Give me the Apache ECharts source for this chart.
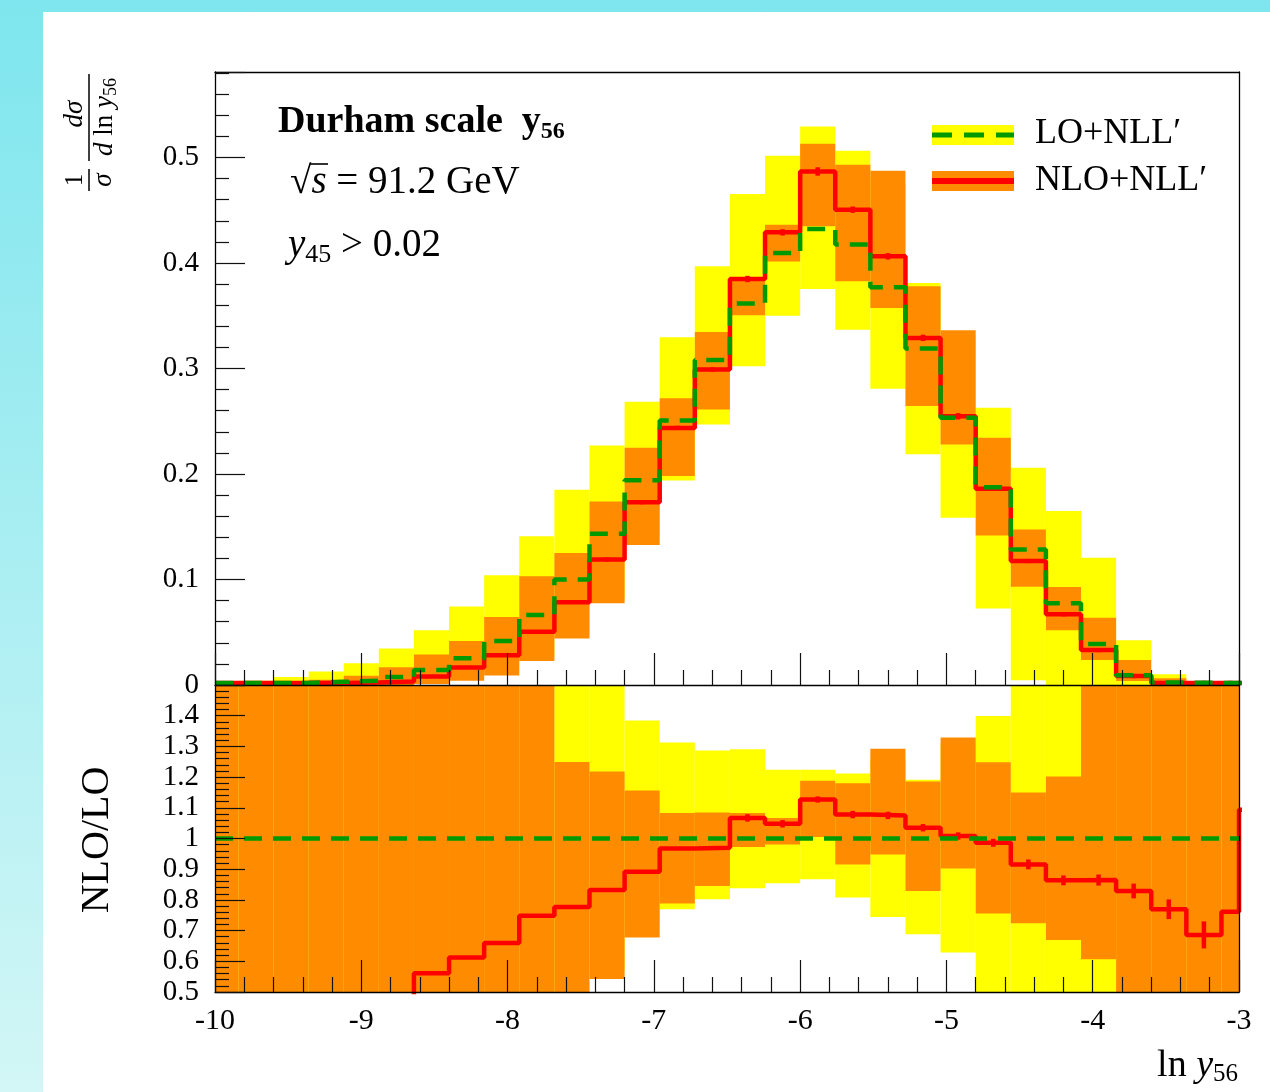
<!DOCTYPE html>
<html>
<head>
<meta charset="utf-8">
<script src="https://cdn.jsdelivr.net/npm/echarts@6/dist/echarts.min.js"></script>
<style>
html,body{margin:0;padding:0;width:1270px;height:1092px;overflow:hidden;background:linear-gradient(to bottom,#7ee6ee,#d3f6f6);}
#bg{position:absolute;left:43px;top:12px;width:1227px;height:1080px;background:#fff;}
#chart{position:absolute;left:0;top:0;width:1270px;height:1092px;}
</style>
</head>
<body>
<div id="bg"></div>
<div id="chart"></div>
<script>
// ---- data (bin edges in ln y56) ----
const edges = [-10, -9.84, -9.6, -9.36, -9.12, -8.88, -8.64, -8.4, -8.16, -7.92, -7.68, -7.44, -7.2, -6.96, -6.72, -6.48, -6.24, -6, -5.76, -5.52, -5.28, -5.04, -4.8, -4.56, -4.32, -4.08, -3.84, -3.6, -3.36, -3.12, -3, -2.88];

// main panel: 1/sigma dsigma/dln y56
const loCentral  = [0.002,0.002,0.002,0.003,0.004,0.0076,0.0142,0.0253,0.0417,0.0663,0.100,0.1434,0.1941,0.2507,0.308,0.3615,0.4095,0.4322,0.4176,0.3769,0.319,0.2532,0.1875,0.1285,0.0774,0.0388,0.0092,0.0023,0.002,0.002,0.002];
const loBandHi   = [0.003,0.004,0.0076,0.0127,0.0205,0.0345,0.052,0.0745,0.104,0.141,0.185,0.227,0.2685,0.3296,0.397,0.4653,0.5016,0.5294,0.5063,0.475,0.381,0.33,0.2627,0.2059,0.1648,0.1206,0.0423,0.0101,0.003,0.002,0.002];
const loBandLo   = [0,0,0,0,0.001,0.002,0.004,0.008,0.014,0.026,0.048,0.082,0.14,0.1938,0.2469,0.302,0.350,0.3754,0.3368,0.2807,0.2187,0.1585,0.0726,0.0045,0,0,0,0,0,0,0];
const nloCentral = [0.002,0.002,0.002,0.002,0.0023,0.0032,0.008,0.0165,0.0281,0.0505,0.0785,0.119,0.1733,0.2437,0.299,0.3848,0.429,0.4867,0.4505,0.4063,0.329,0.2547,0.186,0.1175,0.067,0.0331,0.0085,0.002,0.002,0.002,0.002];
const nloErr     = [0.001,0.001,0.001,0.001,0.001,0.001,0.001,0.001,0.001,0.001,0.001,0.002,0.002,0.002,0.002,0.003,0.003,0.004,0.003,0.003,0.003,0.003,0.002,0.002,0.002,0.002,0.002,0.002,0.002,0.002,0.002];
const nloBandHi  = [0.002,0.002,0.003,0.005,0.0088,0.0168,0.029,0.0418,0.0644,0.103,0.125,0.174,0.2248,0.2718,0.3346,0.3858,0.4363,0.513,0.493,0.4874,0.378,0.3362,0.2343,0.1474,0.0928,0.0638,0.0237,0.0065,0.003,0.002,0.002];
const nloBandLo  = [0,0,0,0,0,0,0.001,0.004,0.009,0.0227,0.044,0.0774,0.1326,0.198,0.261,0.3504,0.4015,0.4347,0.3826,0.3574,0.2645,0.228,0.1418,0.0932,0.052,0.0236,0.0038,0.001,0,0,0];

// ratio panel: NLO/LO
const ratioLoLine = [1, 1];
const ratioLoLineX = [-10, -3];
const ratioNlo   = [0.3,0.32,0.35,0.38,0.42,0.44,0.561,0.6127,0.66,0.748,0.777,0.832,0.892,0.9675,0.97,1.067,1.048,1.127,1.078,1.075,1.035,1.008,0.986,0.9156,0.8636,0.8646,0.829,0.7695,0.686,0.761,1.094];
const ratioErr   = [0,0,0,0,0,0,0,0,0,0,0,0,0,0,0,0.012,0.012,0.01,0.012,0.012,0.012,0.012,0.013,0.016,0.016,0.018,0.024,0.032,0.044,0,0];
const ratioLoHi  = [1.5,2.0,3.8,4.2,5.1,4.5,3.7,2.9,2.5,2.1,1.85,1.58,1.384,1.313,1.287,1.291,1.224,1.224,1.212,1.26,1.1916,1.31,1.399,1.6,2.1,3.1,4.6,4.4,1.5,1.5,1.5];
const ratioLoLo  = [0.2,0.2,0.2,0.2,0.25,0.26,0.28,0.32,0.34,0.39,0.48,0.57,0.72,0.7695,0.802,0.838,0.854,0.867,0.8075,0.7446,0.688,0.629,0.387,0.035,0,0,0,0,0,0,0];
const ratioNloHi = [1.6,1.6,1.6,1.7,2.2,2.2,2.04,1.65,1.54,1.55,1.249,1.2185,1.156,1.083,1.085,1.083,1.067,1.188,1.18,1.292,1.186,1.329,1.248,1.15,1.202,1.64,2.6,2.8,1.6,1.6,1.6];
const ratioNloLo = [0,0,0,0,0,0,0.07,0.16,0.22,0.34,0.44,0.542,0.6776,0.788,0.845,0.972,0.9805,1.005,0.9156,0.948,0.829,0.9026,0.7555,0.724,0.669,0.607,0.41,0.43,0,0,0];

const xTicks = [-10,-9,-8,-7,-6,-5,-4,-3];

// ---- helpers ----
const F = 'Liberation Serif';
const XMIN = -10, XMAX = -3;
const MAIN = [0, 0.581], RAT = [0.5, 1.5];

function bandRows(lo, hi) {
  return lo.map((v, i) => [edges[i], edges[i + 1], v, hi[i]]);
}
function stepPts(vals) {
  const p = vals.map((v, i) => [edges[i], v]);
  p.push([edges[vals.length], vals[vals.length - 1]]);
  return p;
}
function errRows(vals, errs) {
  return vals.map((v, i) => [(edges[i] + edges[i + 1]) / 2, v, errs[i]]);
}
function bandRender(color, yr) {
  return function (params, api) {
    let x0 = Math.max(XMIN, api.value(0)), x1 = Math.min(XMAX, api.value(1));
    if (x1 <= x0) return null;
    let lo = Math.max(yr[0], api.value(2)), hi = Math.min(yr[1], api.value(3));
    if (hi <= lo) return null;
    const p0 = api.coord([x0, hi]), p1 = api.coord([x1, lo]);
    return { type: 'rect', shape: { x: p0[0], y: p0[1], width: p1[0] - p0[0], height: p1[1] - p0[1] },
             style: { fill: color } };
  };
}
function errRender(color, yr) {
  return function (params, api) {
    const xc = api.value(0), v = api.value(1), e = api.value(2);
    if (!e || xc > XMAX) return null;
    const a = api.coord([xc, Math.max(yr[0], v - e)]), b = api.coord([xc, Math.min(yr[1], v + e)]);
    return { type: 'line', shape: { x1: a[0], y1: a[1], x2: b[0], y2: b[1] }, style: { stroke: color, lineWidth: 4.5 } };
  };
}

const tickStyle = { color: '#111', width: 1.2 };
function xAxisCfg(grid, labels) {
  return {
    type: 'value', gridIndex: grid, min: XMIN, max: XMAX, interval: 1, position: 'bottom', z: 10,
    axisLine: { show: true, onZero: false, lineStyle: { color: '#000', width: 1.3 } },
    axisTick: { show: true, inside: true, length: 32, lineStyle: tickStyle },
    minorTick: { show: true, splitNumber: 5, length: 15, lineStyle: tickStyle },
    splitLine: { show: false },
    axisLabel: { show: labels, margin: 14, fontFamily: F, fontSize: 30, color: '#000',
                 formatter: v => String(Math.round(v)) }
  };
}
function yAxisCfg(grid, r, fmt) {
  return {
    type: 'value', gridIndex: grid, min: r[0], max: r[1], interval: 0.1, position: 'left', z: 10,
    axisLine: { show: true, onZero: false, lineStyle: { color: '#000', width: 1.3 } },
    axisTick: { show: true, inside: true, length: 30, lineStyle: tickStyle },
    minorTick: { show: true, splitNumber: 5, length: 14, lineStyle: tickStyle },
    splitLine: { show: false },
    axisLabel: { show: true, margin: 16, fontFamily: F, fontSize: 29, color: '#000',
                 showMaxLabel: false, formatter: fmt }
  };
}
function frameAxis(grid, pos, r) {
  return { type: 'value', gridIndex: grid, min: r[0], max: r[1], position: pos, z: 10,
    axisLine: { show: true, onZero: false, lineStyle: { color: '#000', width: 1.3 } },
    axisTick: { show: false }, axisLabel: { show: false }, splitLine: { show: false } };
}

const chart = echarts.init(document.getElementById('chart'), null, { renderer: 'canvas' });

const rs = (extra) => Object.assign({ fontFamily: F, fill: '#000', color: '#000' }, extra);

const option = {
  animation: false,
  backgroundColor: 'transparent',
  grid: [
    { left: 215, top: 72, width: 1024, height: 613 },
    { left: 215, top: 685, width: 1024, height: 307 }
  ],
  xAxis: [
    xAxisCfg(0, false),
    xAxisCfg(1, true),
    frameAxis(0, 'top', [XMIN, XMAX])
  ],
  yAxis: [
    yAxisCfg(0, MAIN, v => (Math.abs(v) < 1e-9 ? '0' : v.toFixed(1))),
    yAxisCfg(1, RAT, v => (Math.abs(v - 1) < 1e-9 ? '1' : v.toFixed(1))),
    frameAxis(0, 'right', MAIN),
    frameAxis(1, 'right', RAT)
  ],
  series: [
    // main panel
    { type: 'custom', name: 'LO band', xAxisIndex: 0, yAxisIndex: 0, z: 1, silent: true, clip: true,
      renderItem: bandRender('#ffff00', MAIN), encode: { x: [0, 1], y: [2, 3] }, data: bandRows(loBandLo, loBandHi) },
    { type: 'custom', name: 'NLO band', xAxisIndex: 0, yAxisIndex: 0, z: 2, silent: true, clip: true,
      renderItem: bandRender('#ff8c00', MAIN), encode: { x: [0, 1], y: [2, 3] }, data: bandRows(nloBandLo, nloBandHi) },
    { type: 'line', name: 'NLO+NLL', xAxisIndex: 0, yAxisIndex: 0, z: 3, step: 'end', symbol: 'none', clip: true,
      lineStyle: { color: '#ff0000', width: 4.5 }, data: stepPts(nloCentral) },
    { type: 'custom', name: 'NLO err', xAxisIndex: 0, yAxisIndex: 0, z: 3, silent: true, clip: true,
      renderItem: errRender('#ff0000', MAIN), encode: { x: 0, y: 1 }, data: errRows(nloCentral, nloErr) },
    { type: 'line', name: 'LO+NLL', xAxisIndex: 0, yAxisIndex: 0, z: 4, step: 'end', symbol: 'none', clip: true,
      lineStyle: { color: '#009a00', width: 4.5, type: [18, 11] }, data: stepPts(loCentral) },
    // ratio panel
    { type: 'custom', name: 'LO band r', xAxisIndex: 1, yAxisIndex: 1, z: 1, silent: true, clip: true,
      renderItem: bandRender('#ffff00', RAT), encode: { x: [0, 1], y: [2, 3] }, data: bandRows(ratioLoLo, ratioLoHi) },
    { type: 'custom', name: 'NLO band r', xAxisIndex: 1, yAxisIndex: 1, z: 2, silent: true, clip: true,
      renderItem: bandRender('#ff8c00', RAT), encode: { x: [0, 1], y: [2, 3] }, data: bandRows(ratioNloLo, ratioNloHi) },
    { type: 'line', name: 'NLO/LO', xAxisIndex: 1, yAxisIndex: 1, z: 3, step: 'end', symbol: 'none', clip: true,
      lineStyle: { color: '#ff0000', width: 4.5 }, data: stepPts(ratioNlo) },
    { type: 'custom', name: 'NLO/LO err', xAxisIndex: 1, yAxisIndex: 1, z: 3, silent: true, clip: true,
      renderItem: errRender('#ff0000', RAT), encode: { x: 0, y: 1 }, data: errRows(ratioNlo, ratioErr) },
    { type: 'line', name: 'LO/LO', xAxisIndex: 1, yAxisIndex: 1, z: 4, symbol: 'none', clip: true,
      lineStyle: { color: '#009a00', width: 4.5, type: [18, 11] },
      data: ratioLoLineX.map((x, i) => [x, ratioLoLine[i]]) }
  ],
  graphic: [
    // annotations
    { type: 'text', x: 278, y: 122, z: 20, style: {
        text: '{b|Durham scale  }{b|y}{bs|56}', align: 'left', verticalAlign: 'middle',
        rich: { b: rs({ fontSize: 38, fontWeight: 'bold', lineHeight: 44 }),
                bs: rs({ fontSize: 24, fontWeight: 'bold', lineHeight: 22, verticalAlign: 'bottom' }) } } },
    { type: 'text', x: 290, y: 183, z: 20, style: {
        text: '{r|√}{i|s}{r| = 91.2 GeV}', align: 'left', verticalAlign: 'middle',
        rich: { r: rs({ fontSize: 39, lineHeight: 44 }), i: rs({ fontSize: 39, fontStyle: 'italic', lineHeight: 44 }) } } },
    { type: 'line', z: 20, shape: { x1: 310, y1: 164, x2: 328, y2: 164 }, style: { stroke: '#000', lineWidth: 1.6 } },
    { type: 'text', x: 288, y: 246, z: 20, style: {
        text: '{i|y}{s|45}{r| > 0.02}', align: 'left', verticalAlign: 'middle',
        rich: { r: rs({ fontSize: 39, lineHeight: 44 }), i: rs({ fontSize: 39, fontStyle: 'italic', lineHeight: 44 }),
                s: rs({ fontSize: 26, lineHeight: 22, verticalAlign: 'bottom' }) } } },
    // legend
    { type: 'rect', z: 20, shape: { x: 932, y: 125, width: 82, height: 20 }, style: { fill: '#ffff00' } },
    { type: 'line', z: 21, shape: { x1: 932, y1: 135, x2: 1014, y2: 135 }, style: { stroke: '#009a00', lineWidth: 5, lineDash: [20, 12] } },
    { type: 'rect', z: 20, shape: { x: 932, y: 171, width: 82, height: 20 }, style: { fill: '#ff8c00' } },
    { type: 'line', z: 21, shape: { x1: 932, y1: 181, x2: 1014, y2: 181 }, style: { stroke: '#ff0000', lineWidth: 6 } },
    { type: 'text', x: 1035, y: 134, z: 20, style: { text: 'LO+NLL\u2032', fontFamily: F, fontSize: 36, fill: '#000', align: 'left', verticalAlign: 'middle' } },
    { type: 'text', x: 1035, y: 181, z: 20, style: { text: 'NLO+NLL\u2032', fontFamily: F, fontSize: 36, fill: '#000', align: 'left', verticalAlign: 'middle' } },
    // y title main (rotated fraction)
    { type: 'group', x: 89, y: 192, rotation: Math.PI / 2, z: 20, children: [
        { type: 'text', x: 12, y: -1, style: { text: '1', fontFamily: F, fontSize: 25, fill: '#000', align: 'center', verticalAlign: 'bottom' } },
        { type: 'line', shape: { x1: 1, y1: 0, x2: 23, y2: 0 }, style: { stroke: '#000', lineWidth: 1.5 } },
        { type: 'text', x: 12, y: 1, style: { text: 'σ', fontFamily: F, fontStyle: 'italic', fontSize: 27, fill: '#000', align: 'center', verticalAlign: 'top' } },
        { type: 'text', x: 78, y: -1, style: { text: 'dσ', fontFamily: F, fontStyle: 'italic', fontSize: 27, fill: '#000', align: 'center', verticalAlign: 'bottom' } },
        { type: 'line', shape: { x1: 31, y1: 0, x2: 118, y2: 0 }, style: { stroke: '#000', lineWidth: 1.5 } },
        { type: 'text', x: 75, y: 1, style: { text: '{i|d }{r|ln }{i|y}{s|56}', align: 'center', verticalAlign: 'top',
            rich: { i: rs({ fontSize: 27, fontStyle: 'italic', lineHeight: 30 }), r: rs({ fontSize: 27, lineHeight: 30 }),
                    s: rs({ fontSize: 18, lineHeight: 16, verticalAlign: 'bottom' }) } } }
    ] },
    // y title ratio
    { type: 'text', x: 97, y: 840, rotation: Math.PI / 2, z: 20, style: { text: 'NLO/LO', fontFamily: F, fontSize: 40, fill: '#000', align: 'center', verticalAlign: 'middle' } },
    // x title
    { type: 'text', x: 1238, y: 1066, z: 20, style: {
        text: '{r|ln }{i|y}{s|56}', align: 'right', verticalAlign: 'middle',
        rich: { r: rs({ fontSize: 38, lineHeight: 42 }), i: rs({ fontSize: 38, fontStyle: 'italic', lineHeight: 42 }),
                s: rs({ fontSize: 25, lineHeight: 20, verticalAlign: 'bottom' }) } } }
  ]
};
chart.setOption(option);
</script>
</body>
</html>
